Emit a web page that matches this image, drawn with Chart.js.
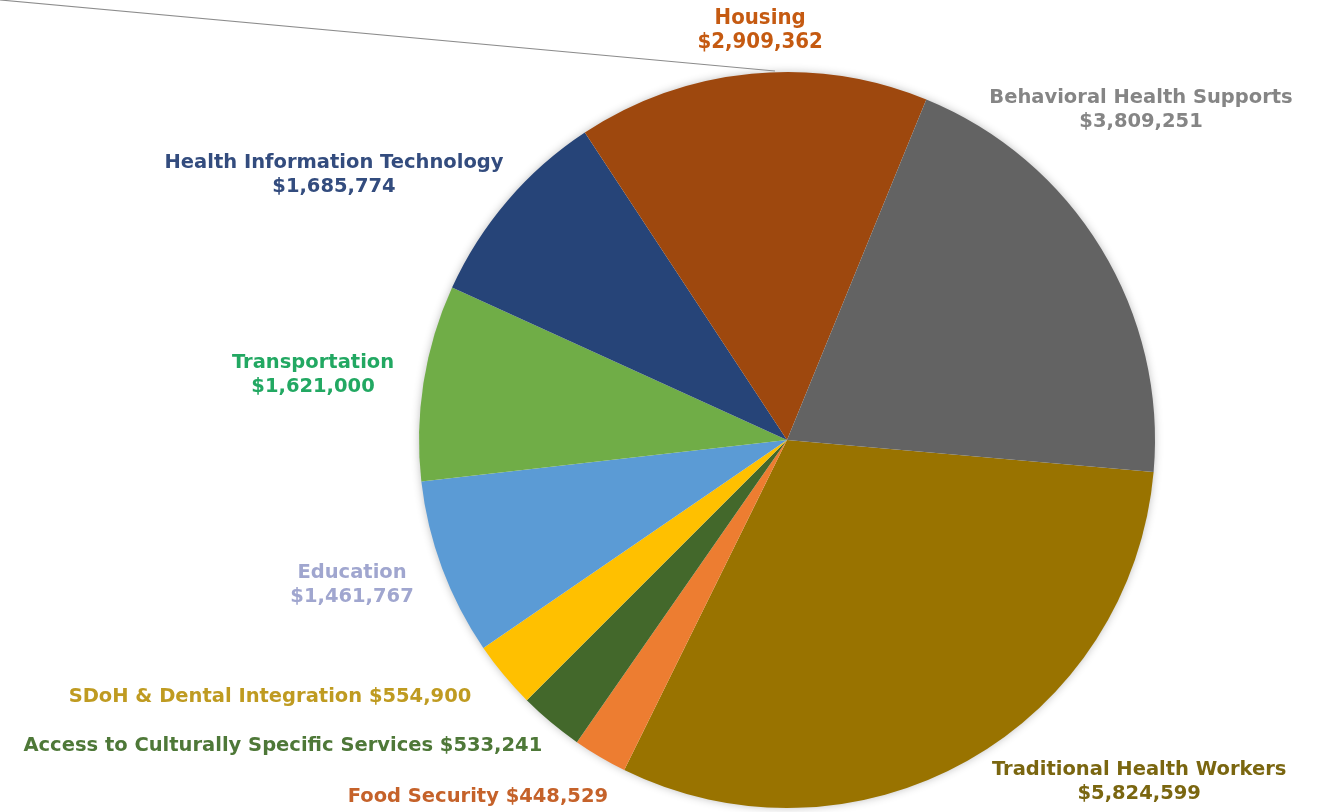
<!DOCTYPE html>
<html>
<head>
<meta charset="utf-8">
<script src="https://cdn.jsdelivr.net/npm/chart.js@4.4.1/dist/chart.umd.min.js"></script>
<style>
  html, body { margin: 0; padding: 0; background: #fff; }
  #wrap { width: 1322px; height: 812px; position: relative; }
</style>
</head>
<body>
<div id="wrap"><canvas id="pieChart" width="1322" height="812"></canvas></div>
<script>
// categorias y montos (clockwise desde Traditional Health Workers)
const categorias = [
  'Traditional Health Workers',
  'Food Security',
  'Access to Culturally Specific Services',
  'SDoH & Dental Integration',
  'Education',
  'Transportation',
  'Health Information Technology',
  'Housing',
  'Behavioral Health Supports'
];
const montos = [5824599, 448529, 533241, 554900, 1461767, 1621000, 1685774, 2909362, 3809251];
const coloresSector = ['#997300', '#ED7D31', '#43682B', '#FFC000', '#5B9BD5', '#70AD47', '#264478', '#9E480E', '#636363'];
const coloresEtiqueta = ['#7A6610', '#C5622A', '#4E7838', '#BF9B21', '#A0A6CF', '#22A862', '#334C7E', '#C55A11', '#858585'];
// true = nombre y monto en una sola linea
const unaLinea = [false, true, true, true, false, false, false, false, false];

// posicion de cada etiqueta relativa al centro, en unidades del radio
const posEtiqueta = [
  [0.957, 0.930],
  [-0.840, 0.970],
  [-1.370, 0.832],
  [-1.405, 0.698],
  [-1.182, 0.394],
  [-1.288, -0.177],
  [-1.231, -0.720],
  [-0.073, -1.114],
  [0.962, -0.897]
];

const formatoDinero = v => '$' + v.toLocaleString('en-US');

// sombra suave detras del pastel
const sombraPastel = {
  id: 'sombraPastel',
  beforeDatasetsDraw(chart) {
    const arc = chart.getDatasetMeta(0).data[0];
    if (!arc) return;
    const ctx = chart.ctx;
    ctx.save();
    ctx.shadowColor = 'rgba(0,0,0,0.3)';
    ctx.shadowBlur = 10;
    ctx.fillStyle = '#ffffff';
    ctx.beginPath();
    ctx.arc(arc.x, arc.y, arc.outerRadius - 1, 0, Math.PI * 2);
    ctx.fill();
    ctx.restore();
  }
};

// linea gris que sale de la esquina hacia la cima del pastel
const lineaSuperior = {
  id: 'lineaSuperior',
  afterDatasetsDraw(chart) {
    const arc = chart.getDatasetMeta(0).data[0];
    const ctx = chart.ctx;
    ctx.save();
    ctx.strokeStyle = '#8c8c8c';
    ctx.lineWidth = 1.2;
    ctx.beginPath();
    ctx.moveTo(0, 0);
    ctx.lineTo(arc.x - 12, arc.y - arc.outerRadius - 1);
    ctx.stroke();
    ctx.restore();
  }
};

// etiquetas con nombre y monto fuera del pastel
const etiquetas = {
  id: 'etiquetas',
  afterDraw(chart) {
    const meta = chart.getDatasetMeta(0);
    const ctx = chart.ctx;
    ctx.save();
    ctx.textAlign = 'center';
    ctx.textBaseline = 'middle';
    meta.data.forEach((arc, i) => {
      const x = arc.x + posEtiqueta[i][0] * arc.outerRadius;
      const y = arc.y + posEtiqueta[i][1] * arc.outerRadius;
      ctx.fillStyle = coloresEtiqueta[i];
      if (categorias[i] === 'Housing') {
        ctx.font = 'bold 22px "Liberation Sans Narrow", "DejaVu Sans Condensed", sans-serif';
      } else {
        ctx.font = 'bold 19.5px "DejaVu Sans", Verdana, sans-serif';
      }
      if (unaLinea[i]) {
        ctx.fillText(categorias[i] + ' ' + formatoDinero(montos[i]), x, y);
      } else {
        ctx.fillText(categorias[i], x, y - 12);
        ctx.fillText(formatoDinero(montos[i]), x, y + 12);
      }
    });
    ctx.restore();
  }
};

new Chart(document.getElementById('pieChart').getContext('2d'), {
  type: 'pie',
  data: {
    labels: categorias,
    datasets: [{
      data: montos,
      backgroundColor: coloresSector,
      borderWidth: 0
    }]
  },
  options: {
    responsive: false,
    animation: false,
    rotation: 95,
    layout: { padding: { left: 419, right: 167, top: 72, bottom: 4 } },
    plugins: {
      legend: { display: false },
      tooltip: { enabled: false }
    }
  },
  plugins: [sombraPastel, lineaSuperior, etiquetas]
});
</script>
</body>
</html>
